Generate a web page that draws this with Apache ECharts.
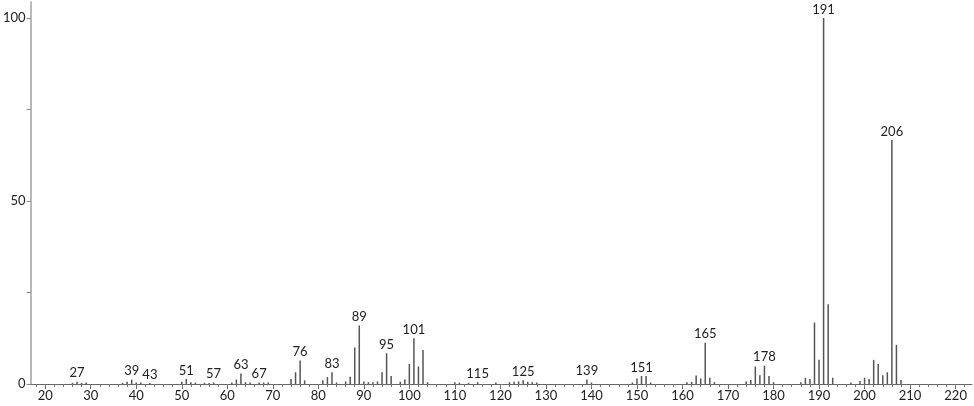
<!DOCTYPE html>
<html>
<head>
<meta charset="utf-8">
<script src="https://cdn.jsdelivr.net/npm/echarts@6/dist/echarts.min.js"></script>
<style>
html,body{margin:0;padding:0;background:#fff;}
#c{width:974px;height:406px;}
</style>
</head>
<body>
<div id="c"></div>
<script>
const mz = [26,27,28,29,37,38,39,40,41,43,50,51,52,53,55,56,57,61,62,63,64,65,67,68,69,
  74,75,76,77,81,82,83,84,86,87,88,89,90,91,92,93,94,95,96,98,99,100,101,102,103,104,
  110,111,113,115,119,122,123,124,125,126,127,128,139,140,149,150,151,152,153,
  161,162,163,164,165,166,167,174,175,176,177,178,179,180,
  186,187,188,189,190,191,192,193,197,199,200,201,202,203,204,205,206,207,208];
const intensity = [0.3,0.6,0.3,0.4,0.3,0.6,1.2,0.4,0.4,0.3,0.6,1.4,0.5,0.4,0.3,0.3,0.4,0.4,1.2,2.9,0.5,0.4,0.4,0.4,0.4,
  1.4,3.2,6.4,1.0,1.0,1.9,3.2,0.4,0.7,2.0,10.0,16.0,0.7,0.5,0.5,0.7,3.2,8.4,2.2,0.6,1.2,5.5,12.5,4.8,9.3,0.5,
  0.5,0.4,0.3,0.5,0.4,0.5,0.6,0.7,1.0,0.6,0.5,0.4,1.2,0.4,0.4,1.5,2.2,2.2,0.4,
  0.5,0.6,2.3,1.5,11.3,1.7,0.5,0.7,1.1,4.8,2.4,5.0,2.2,0.5,
  0.5,1.7,1.4,16.8,6.6,100,21.8,1.7,0.4,0.8,1.7,1.4,6.6,5.5,2.4,3.2,66.7,10.7,1.1];
const labeledPeaks = [27,39,43,51,57,63,67,76,83,89,95,101,115,125,139,151,165,178,191,206];
const xLabelTicks = [20,30,40,50,60,70,80,90,100,110,120,130,140,150,160,170,180,190,200,210,220];
const xMinorTicks = [18,20,22,24,26,28,30,32,34,36,38,40,42,44,46,48,50,52,54,56,58,60,62,64,66,68,70,
  72,74,76,78,80,82,84,86,88,90,92,94,96,98,100,102,104,106,108,110,112,114,116,118,120,122,124,126,128,130,
  132,134,136,138,140,142,144,146,148,150,152,154,156,158,160,162,164,166,168,170,172,174,176,178,180,
  182,184,186,188,190,192,194,196,198,200,202,204,206,208,210,212,214,216,218,220,222];
const yTicks = [0,25,50,75,100];
const yLabels = [0,50,100];

const FONT = 'Lato';
const data = mz.map((m, i) => {
  const item = { value: [m, intensity[i]] };
  if (labeledPeaks.includes(m)) {
    item.label = { show: true, position: 'top', distance: 2, formatter: String(m),
      color: '#222', fontSize: 13, fontFamily: FONT };
  }
  return item;
});

const X_MIN = 16.8, X_MAX = 223.6;
const chart = echarts.init(document.getElementById('c'));
chart.setOption({
  animation: false,
  grid: { left: 28, right: 2, top: 2, bottom: 22 },
  xAxis: [
    {
      type: 'value', min: X_MIN, max: X_MAX, position: 'bottom',
      axisLine: { show: true, onZero: false, lineStyle: { color: '#666', width: 1 } },
      axisTick: { show: true, length: 5, inside: false, customValues: xLabelTicks, lineStyle: { color: '#666' } },
      axisLabel: { show: true, customValues: xLabelTicks, margin: 5, color: '#222', fontSize: 13, fontFamily: FONT },
      splitLine: { show: false }
    },
    {
      type: 'value', min: X_MIN, max: X_MAX, position: 'bottom',
      axisLine: { show: false, onZero: false },
      axisTick: { show: true, length: 3, customValues: xMinorTicks, lineStyle: { color: '#777' } },
      axisLabel: { show: false },
      splitLine: { show: false }
    }
  ],
  yAxis: {
    type: 'value', min: 0, max: 104.4,
    axisLine: { show: true, onZero: false, lineStyle: { color: '#a0a0a0', width: 1.5 } },
    axisTick: { show: true, length: 4, customValues: yTicks, lineStyle: { color: '#888' } },
    axisLabel: { show: true, customValues: yLabels, margin: 5, color: '#222', fontSize: 13, fontFamily: FONT },
    splitLine: { show: false }
  },
  series: [{
    type: 'bar',
    xAxisIndex: 0,
    barWidth: 1.5,
    itemStyle: { color: '#555' },
    data: data
  }]
});
</script>
</body>
</html>
